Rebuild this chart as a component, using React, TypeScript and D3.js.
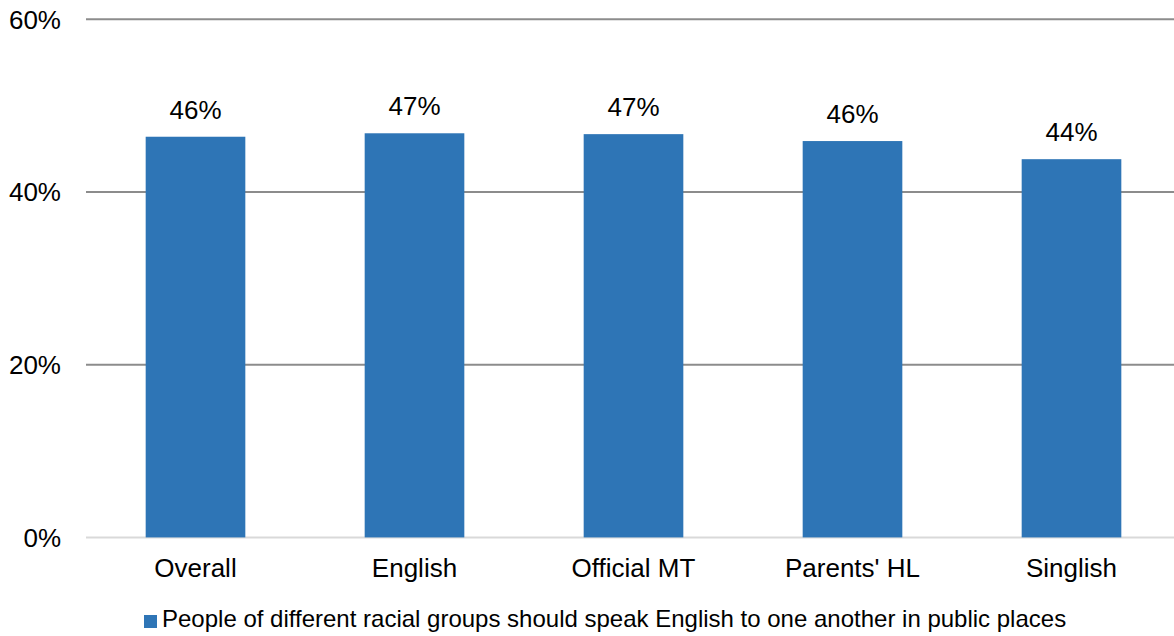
import React, { useRef, useEffect } from 'react';
import * as d3 from 'd3';

const categories = ['Overall', 'English', 'Official MT', 'Parents\' HL', 'Singlish'];
const values = [46.4, 46.8, 46.7, 45.9, 43.8];
const valueLabels = ['46%', '47%', '47%', '46%', '44%'];
const yTicks = [0, 20, 40, 60];
const legendLabel = 'People of different racial groups should speak English to one another in public places';

const W = 1174;
const H = 636;
const margin = { top: 19, bottom: 99, left: 86 };
const BAR = '#2E75B6';

const App = () => {
  const svgRef = useRef<SVGSVGElement | null>(null);

  useEffect(() => {
    const svg = d3.select(svgRef.current);
    svg.selectAll('*').remove();

    // band range runs a touch past the right edge, as in the original
    const x = d3.scaleBand<string>().domain(categories).range([margin.left, 1181]).paddingInner(0.545).paddingOuter(0.2725);
    const y = d3.scaleLinear().domain([0, 60]).range([H - margin.bottom + 0.4, margin.top + 0.3]);

    const font = 'Liberation Sans, Arial, sans-serif';

    // gridlines
    svg.append('g').selectAll('line').data(yTicks).join('line')
      .attr('x1', margin.left).attr('x2', W)
      .attr('y1', (d) => y(d)).attr('y2', (d) => y(d))
      .attr('stroke', (d) => (d === 0 ? '#d9d9d9' : '#8c8c8c'))
      .attr('stroke-width', 2);

    // y tick labels
    svg.append('g').selectAll('text').data(yTicks).join('text')
      .attr('x', 61).attr('y', (d) => y(d))
      .attr('dy', '0.36em')
      .attr('text-anchor', 'end')
      .attr('font-family', font).attr('font-size', 26).attr('fill', '#000')
      .text((d) => `${d}%`);

    // bars
    svg.append('g').selectAll('rect').data(values).join('rect')
      .attr('x', (_, i) => x(categories[i])!)
      .attr('width', x.bandwidth())
      .attr('y', (d) => y(d))
      .attr('height', (d) => y(0) - y(d))
      .attr('fill', BAR);

    // value labels
    svg.append('g').selectAll('text').data(values).join('text')
      .attr('x', (_, i) => x(categories[i])! + x.bandwidth() / 2)
      .attr('y', (d) => y(d) - 18)
      .attr('text-anchor', 'middle')
      .attr('font-family', font).attr('font-size', 26).attr('fill', '#000')
      .text((_, i) => valueLabels[i]);

    // category labels
    svg.append('g').selectAll('text').data(categories).join('text')
      .attr('x', (d) => x(d)! + x.bandwidth() / 2)
      .attr('y', 577)
      .attr('text-anchor', 'middle')
      .attr('font-family', font).attr('font-size', 26).attr('fill', '#000')
      .text((d) => d);

    // legend
    const lg = svg.append('g');
    lg.append('rect').attr('x', 144).attr('y', 615).attr('width', 13).attr('height', 13).attr('fill', BAR);
    lg.append('text').attr('x', 162).attr('y', 627)
      .attr('font-family', font).attr('font-size', 24).attr('fill', '#000')
      .text(legendLabel);
  }, []);

  return (
    <svg ref={svgRef} width={W} height={H} style={{ position: 'absolute', left: 0, top: 0, background: '#fff' }}></svg>
  );
};

export default App;
